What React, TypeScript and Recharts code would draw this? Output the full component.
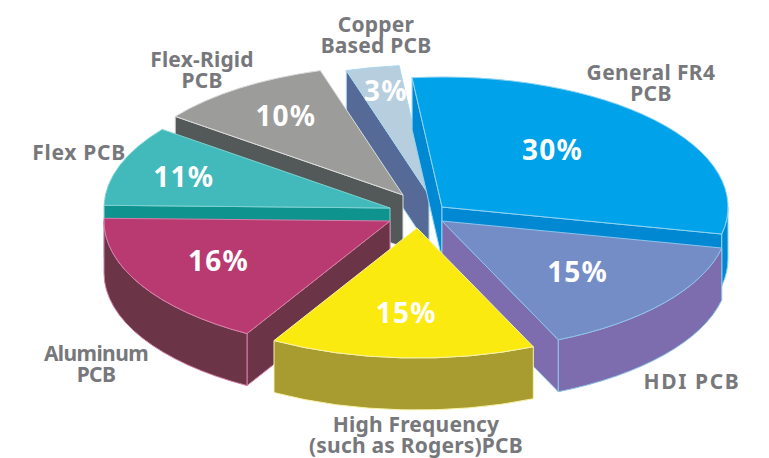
import { Pie, PieChart } from "recharts"

// chart data, clockwise from the top
const categories = ["General FR4", "HDI", "High Frequency", "Aluminum", "Flex", "Flex-Rigid", "Copper Based"]
// printed on the slices
const printedShares = [30, 15, 15, 16, 11, 10, 3]
// slice sizes as actually drawn in the picture (Aluminum/Flex differ a little from the print)
const drawnShares = [30, 15, 15, 17, 10, 10, 3]
const data = categories.map((name, i) => ({ name, value: drawnShares[i] }))

// look of each slice, same order as categories
const topFills = ["#00a2e9", "#748dc7", "#fbea0f", "#b93a70", "#42b9ba", "#9c9c9a", "#b6cedd"]
const sideFills = ["#0089d2", "#7d6dae", "#a89c30", "#6b3547", "#0f938f", "#535958", "#556a97"]
const edges = ["#8fd3f2", "#8fc4ea", "#f7f3a8", "#d77fa8", "#7fd2d2", "#dcdcdc", "#a9d8f0"]
const explodeX = [26, 26, 1, -26, -26, -13, 13]
const explodeY = [-1, 13, 20, 13, 0, -13, -13]
const labelReach = [0.6, 0.61, 0.65, 0.66, 0.76, 0.73, 0.8]
const labelNudgeX = [-17, 0, -1, -7, -1, 2, 2]
const labelNudgeY = [-6, 0, 0, -3, 0, -2, -3]

// painted back to front
const paintOrder = [6, 5, 4, 3, 0, 1, 2]

// name labels, one entry per category
const nameLines = [
  ["General FR4", "PCB"],
  ["HDI PCB"],
  ["High Frequency", "(such as Rogers)PCB"],
  ["Aluminum", "PCB"],
  ["Flex PCB"],
  ["Flex-Rigid", "PCB"],
  ["Copper", "Based PCB"],
]
const nameX = [651, 692, 416, 96, 79, 202, 376]
const nameY = [72, 381, 424, 353, 152, 59, 24]
const nameSpacing = [0.4, 1.6, 0.2, -0.6, 0.7, 0.2, 0.2]

const WIDTH = 769
const HEIGHT = 458
const SQUASH = 130 / 286
const DEPTH = 52
const RAD = Math.PI / 180

function Slice(props: any) {
  const { cx, cy, outerRadius: r, startAngle, endAngle, index } = props
  const ox = cx + explodeX[index]
  const oy = cy + explodeY[index]
  const ry = r * SQUASH
  const pt = (deg: number) => [ox + r * Math.cos(deg * RAD), oy - ry * Math.sin(deg * RAD)]
  const [sx, sy] = pt(startAngle)
  const [ex, ey] = pt(endAngle)
  const large = Math.abs(startAngle - endAngle) > 180 ? 1 : 0
  const top = `M${ox},${oy}L${sx},${sy}A${r},${ry} 0 ${large} 1 ${ex},${ey}Z`

  const face = (x: number, y: number) =>
    `M${ox},${oy}L${x},${y}L${x},${y + DEPTH}L${ox},${oy + DEPTH}Z`
  const faces: string[] = []
  if (Math.cos(startAngle * RAD) < 0) faces.push(face(sx, sy))
  if (Math.cos(endAngle * RAD) > 0) faces.push(face(ex, ey))

  // outer wall only shows on the front half of the ellipse
  let wall = ""
  for (const turn of [0, -360]) {
    const a0 = Math.min(startAngle, 0 + turn)
    const a1 = Math.max(endAngle, -180 + turn)
    if (a0 > a1) {
      const [ax, ay] = pt(a0)
      const [bx, by] = pt(a1)
      wall += `M${ax},${ay}A${r},${ry} 0 0 1 ${bx},${by}L${bx},${by + DEPTH}A${r},${ry} 0 0 0 ${ax},${ay + DEPTH}Z`
    }
  }

  const paint = { stroke: edges[index], strokeWidth: 1, strokeLinejoin: "round" as const }
  return (
    <g>
      {faces.map((d) => (
        <path key={d} d={d} fill={sideFills[index]} {...paint} />
      ))}
      {wall && <path d={wall} fill={sideFills[index]} {...paint} />}
      <path d={top} fill={topFills[index]} {...paint} />
    </g>
  )
}

function SliceLabels(props: any) {
  const { cx, cy, outerRadius: r, midAngle, index } = props
  const k = labelReach[index]
  const x = cx + explodeX[index] + r * k * Math.cos(midAngle * RAD) + labelNudgeX[index]
  const y = cy + explodeY[index] - r * SQUASH * k * Math.sin(midAngle * RAD) + labelNudgeY[index]
  return (
    <g fontFamily="'Noto Sans', sans-serif" fontWeight={700} textAnchor="middle" dominantBaseline="central">
      <text x={x} y={y} fill="#ffffff" fontSize={28} letterSpacing={1.2}>
        {printedShares[index]}%
      </text>
      <text x={nameX[index]} y={nameY[index]} fill="#77787b" fontSize={21} letterSpacing={nameSpacing[index]}>
        {nameLines[index].map((line, i) => (
          <tspan key={line} x={nameX[index]} dy={i === 0 ? 0 : 21}>
            {line}
          </tspan>
        ))}
      </text>
    </g>
  )
}

export default function App() {
  return (
    <div style={{ position: "absolute", left: 0, top: 0, width: WIDTH, height: HEIGHT }}>
      <PieChart width={WIDTH} height={HEIGHT} margin={{ top: 0, right: 0, bottom: 0, left: 0 }}>
        {paintOrder.map((slot) => (
          <Pie
            key={slot}
            data={data}
            dataKey="value"
            nameKey="name"
            cx={416}
            cy={208}
            innerRadius={0}
            outerRadius={286}
            startAngle={96}
            endAngle={-264}
            isAnimationActive={false}
            shape={(p: any) => (p.index === slot ? <Slice {...p} /> : <g />)}
          />
        ))}
        <Pie
          data={data}
          dataKey="value"
          nameKey="name"
          cx={416}
          cy={208}
          innerRadius={0}
          outerRadius={286}
          startAngle={96}
          endAngle={-264}
          isAnimationActive={false}
          shape={() => <g />}
          labelLine={false}
          label={(p: any) => <SliceLabels {...p} />}
        />
      </PieChart>
    </div>
  )
}
